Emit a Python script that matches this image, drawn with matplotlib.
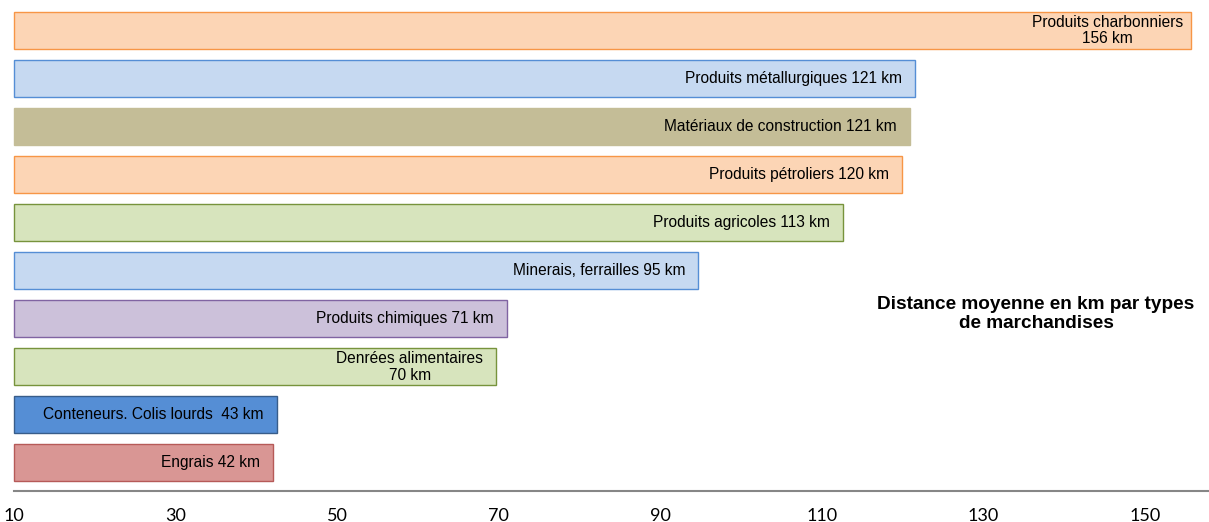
import matplotlib
matplotlib.use("Agg")
import matplotlib.pyplot as plt

# Data (top to bottom as displayed)
labels = [
    "Produits charbonniers\n156 km",
    "Produits métallurgiques 121 km",
    "Matériaux de construction 121 km",
    "Produits pétroliers 120 km",
    "Produits agricoles 113 km",
    "Minerais, ferrailles 95 km",
    "Produits chimiques 71 km",
    "Denrées alimentaires\n70 km",
    "Conteneurs. Colis lourds  43 km",
    "Engrais 42 km",
]
values = [155.7, 121.5, 120.9, 119.9, 112.6, 94.7, 71.0, 69.7, 42.5, 42.1]
fills = ["#FCD5B5", "#C6D9F1", "#C4BD97", "#FCD5B5", "#D7E4BD",
         "#C6D9F1", "#CCC1DA", "#D7E4BD", "#558ED5", "#D99694"]
edges = ["#F79646", "#558ED5", "#C4BD97", "#F79646", "#77933C",
         "#558ED5", "#8064A2", "#77933C", "#385D8A", "#B65A58"]
xticks = [10, 30, 50, 70, 90, 110, 130, 150]
title = "Distance moyenne en km par types\nde marchandises"
base = 10

fig = plt.figure(figsize=(12.09, 5.22), dpi=100)
ax = fig.add_axes([0, 31 / 522, 1, 491 / 522])

n = len(values)
ys = list(range(n - 1, -1, -1))
widths = [v - base for v in values]
ax.barh(ys, widths, left=base, height=0.77, color=fills, edgecolor=edges,
        linewidth=1.0)

for y, v, lab in zip(ys, values, labels):
    off = -8 if "\n" in lab and v > 150 else -13
    ax.annotate(lab, xy=(v, y), xytext=(off, 0), textcoords="offset pixels",
                ha="right", va="center", multialignment="center",
                fontsize=11.2, linespacing=1.15,
                family=["Liberation Sans", "DejaVu Sans"], color="#000000")

ax.set_xlim(8.27, 157.9)
ax.set_ylim(-0.583, 9.635)

for s in ["top", "left", "right"]:
    ax.spines[s].set_visible(False)
ax.spines["bottom"].set_color("#868686")
ax.spines["bottom"].set_linewidth(1.5)
ax.spines["bottom"].set_bounds(base, 157.9)
ax.set_yticks([])
ax.set_xticks(xticks)
ax.set_xticklabels([str(t) for t in xticks], fontsize=13, family="Lato")
ax.tick_params(axis="x", length=0, pad=12)

fig.text(1036 / 1209, 1 - 314 / 522, title, ha="center", va="center",
         fontsize=13.7, fontweight="bold", family="Liberation Sans",
         multialignment="center", linespacing=1.2)

fig.savefig("out.png", dpi=100)
